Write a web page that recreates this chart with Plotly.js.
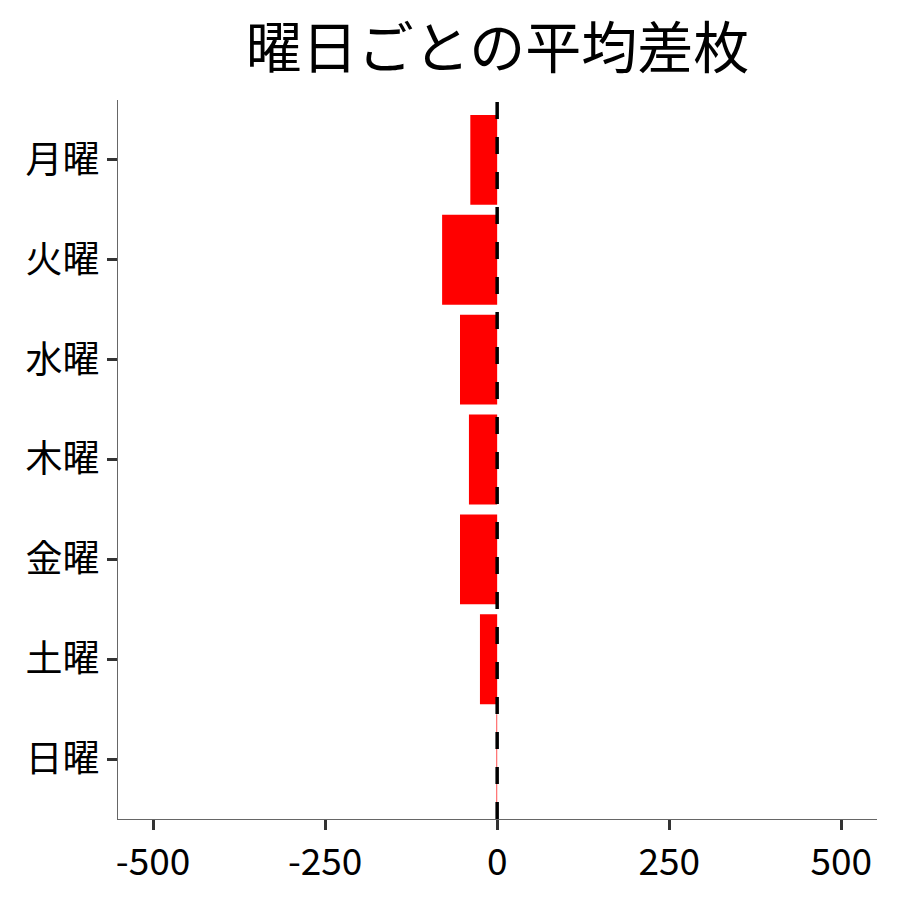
<!DOCTYPE html>
<html>
<head>
<meta charset="utf-8">
<script src="https://cdn.plot.ly/plotly-3.0.1.min.js"></script>
<style>
  html, body { margin: 0; padding: 0; background: #fff; }
  #chart { width: 900px; height: 900px; }
</style>
</head>
<body>
<div id="chart"></div>
<script>
// Days of the week, top to bottom
var days = ['月曜', '火曜', '水曜', '木曜', '金曜', '土曜', '日曜'];
// Average difference per day
var avgDiff = [-39, -80, -54, -41, -54, -25, -1];
// Reference line
var refValue = 0;
// X axis ticks
var xTickVals = [-500, -250, 0, 250, 500];
var xTickText = ['-500', '-250', '0', '250', '500'];

var font = '"Noto Sans CJK JP", "Noto Sans", sans-serif';

var bars = {
  type: 'bar',
  orientation: 'h',
  x: avgDiff,
  y: days,
  width: 0.9,
  marker: { color: '#FF0000', line: { width: 0 } },
  hoverinfo: 'skip'
};

var layout = {
  width: 900,
  height: 900,
  paper_bgcolor: '#fff',
  plot_bgcolor: '#fff',
  margin: { l: 118, r: 23, t: 100, b: 81 },
  font: { family: font, color: '#000' },
  showlegend: false,
  title: {
    text: '曜日ごとの平均差枚',
    font: { family: font, size: 56, color: '#000' },
    x: 0.5,
    xref: 'paper',
    xanchor: 'center',
    y: 0.946,
    yref: 'container',
    yanchor: 'middle'
  },
  xaxis: {
    range: [-551, 552],
    tickvals: xTickVals,
    ticktext: xTickText,
    showgrid: false,
    zeroline: false,
    showline: true,
    linecolor: '#666',
    linewidth: 1.2,
    ticks: 'outside',
    ticklen: 10,
    tickwidth: 3,
    tickcolor: '#333',
    tickfont: { family: font, size: 37, color: '#000' }
  },
  yaxis: {
    type: 'category',
    range: [6.6, -0.6],
    showgrid: false,
    zeroline: false,
    showline: true,
    linecolor: '#666',
    linewidth: 1.2,
    ticks: 'outside',
    ticklen: 10,
    tickwidth: 3,
    tickcolor: '#333',
    tickfont: { family: font, size: 37, color: '#000' }
  },
  shapes: [{
    type: 'line',
    xref: 'x',
    yref: 'paper',
    x0: refValue,
    x1: refValue,
    y0: 0,
    y1: 1,
    line: { color: '#000', width: 3.5, dash: '17px,18px' }
  }]
};

Plotly.newPlot('chart', [bars], layout, {
  staticPlot: true,
  displayModeBar: false
});
</script>
</body>
</html>
